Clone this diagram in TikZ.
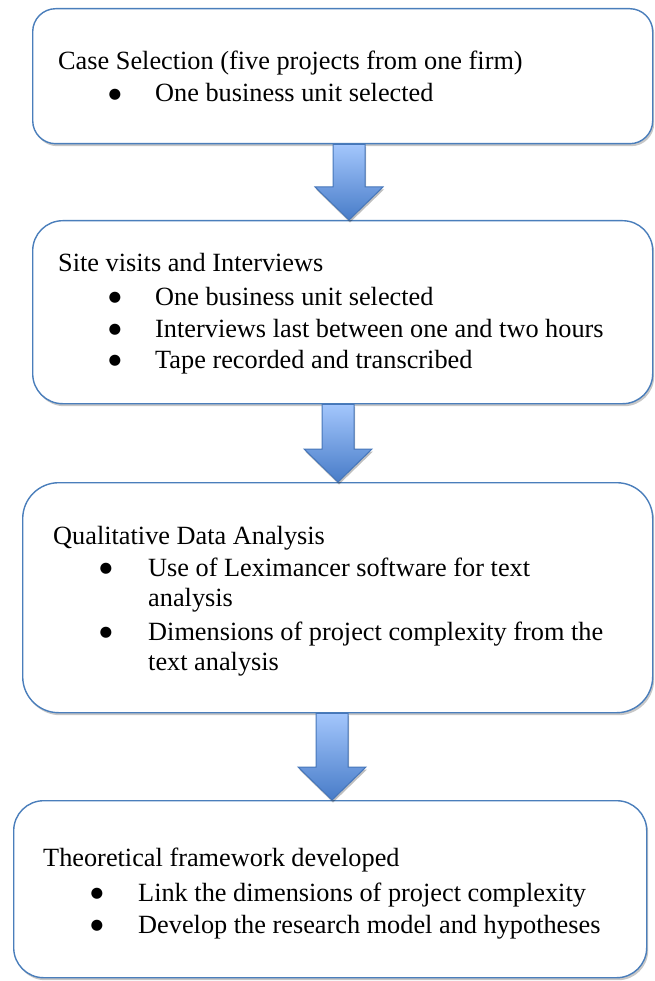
\documentclass[tikz,border=0pt]{standalone}
\usepackage{fontspec}
\setmainfont{Liberation Serif}
\newfontfamily\dejavu{DejaVu Sans}
\usetikzlibrary{calc,shadows}
\definecolor{boxblue}{RGB}{74,126,187}
\definecolor{arrtop}{RGB}{163,198,252}
\definecolor{arrbot}{RGB}{72,124,200}
\definecolor{arredge}{RGB}{70,118,185}
\tikzset{
  flowbox/.style={draw=boxblue, line width=1.4pt, fill=white, inner sep=0pt,
    anchor=north west,
    drop shadow={shadow xshift=1.5pt, shadow yshift=-2.5pt, opacity=.22, fill=black}},
  txt/.style={anchor=base west, inner sep=0pt, font=\fontsize{26.3pt}{31pt}\selectfont},
  bul/.style={anchor=base, inner sep=0pt, font=\dejavu\fontsize{14.5pt}{16pt}\selectfont},
  arrowshape/.style={draw=arredge, line width=1pt, line join=miter,
    top color=arrtop, bottom color=arrbot,
    drop shadow={shadow xshift=1pt, shadow yshift=-2.5pt, opacity=.25, fill=black}}
}
\newcommand{\bigbul}{●}
% #1 upper node, #2 lower node, #3 centre x (pt)
\newcommand{\blockarrow}[3]{%
  \path[arrowshape] let \p1=(#1.south), \p2=(#2.north) in
    (#3pt-16pt,\y1) -- (#3pt+16pt,\y1) -- (#3pt+16pt,\y2+33pt) -- (#3pt+34pt,\y2+33pt)
    -- (#3pt,\y2) -- (#3pt-34pt,\y2+33pt) -- (#3pt-16pt,\y2+33pt) -- cycle;}
\begin{document}
\begin{tikzpicture}[x=1pt,y=-1pt]
\useasboundingbox (0,0) rectangle (654,981);
% boxes
\node[flowbox, minimum width=620pt, minimum height=135pt, rounded corners=23pt] (b1) at (32,8) {};
\node[flowbox, minimum width=620pt, minimum height=183pt, rounded corners=30pt] (b2) at (32,220) {};
\node[flowbox, minimum width=630pt, minimum height=230pt, rounded corners=36pt] (b3) at (22,482) {};
\node[flowbox, minimum width=633pt, minimum height=177pt, rounded corners=30pt] (b4) at (13,800) {};
% arrows
\blockarrow{b1}{b2}{349}
\blockarrow{b2}{b3}{338}
\blockarrow{b3}{b4}{332}
% box 1 text
\node[txt] (t1h) at (58,70) {Case Selection (five projects from one firm)};
\node[bul] (t1b1) at (115,98.5) {\bigbul};
\node[txt] (t1a) at (155,102) {One business unit selected};
% box 2 text
\node[txt] (t2h) at (58,272) {Site visits and Interviews};
\node[bul] (t2b1) at (115,301.5) {\bigbul};
\node[txt] (t2a) at (155,305) {One business unit selected};
\node[bul] (t2b2) at (115,333.5) {\bigbul};
\node[txt] (t2b) at (155,337) {Interviews last between one and two hours};
\node[bul] (t2b3) at (115,364.5) {\bigbul};
\node[txt] (t2c) at (155,368) {Tape recorded and transcribed};
% box 3 text
\node[txt] (t3h) at (53,544) {Qualitative Data Analysis};
\node[bul] (t3b1) at (106,572.5) {\bigbul};
\node[txt] (t3a) at (148,576) {Use of Leximancer software for text};
\node[txt] (t3a2) at (148,606) {analysis};
\node[bul] (t3b2) at (106,636.5) {\bigbul};
\node[txt] (t3b) at (148,640) {Dimensions of project complexity from the};
\node[txt] (t3b2t) at (148,670) {text analysis};
% box 4 text
\node[txt] (t4h) at (43,866) {Theoretical framework developed};
\node[bul] (t4b1) at (97,897.5) {\bigbul};
\node[txt] (t4a) at (138,901) {Link the dimensions of project complexity};
\node[bul] (t4b2) at (97,929.5) {\bigbul};
\node[txt] (t4b) at (138,933) {Develop the research model and hypotheses};
\end{tikzpicture}
\end{document}
